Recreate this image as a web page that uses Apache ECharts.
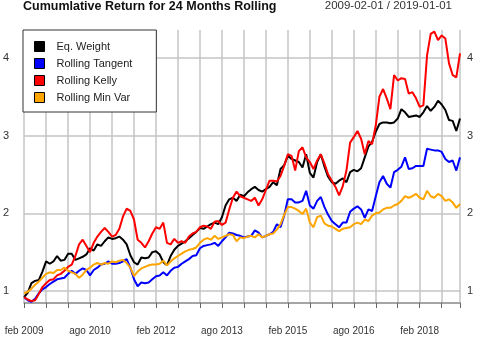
<!DOCTYPE html>
<html>
<head>
<meta charset="utf-8">
<script src="https://cdn.jsdelivr.net/npm/echarts@6/dist/echarts.min.js"></script>
<style>
  html, body { margin: 0; padding: 0; background: #fff; }
  #chart { width: 480px; height: 338px; }
</style>
</head>
<body>
<div id="chart"></div>
<script>
// monthly observations, feb 2009 .. jan 2019
const startYear = 2009
const startMonth = 1 // 0-based, feb
const monthNames = ['ene', 'feb', 'mar', 'abr', 'may', 'jun', 'jul', 'ago', 'sep', 'oct', 'nov', 'dic']
const yTicks = [1, 2, 3, 4]

const eqWeight = [
  0.92, 0.98, 1.10, 1.13, 1.14, 1.25, 1.38, 1.35, 1.38, 1.45, 1.39, 1.40,
  1.48, 1.48, 1.40, 1.42, 1.44, 1.47, 1.55, 1.52, 1.60, 1.58, 1.64, 1.69,
  1.67, 1.68, 1.70, 1.66, 1.60, 1.46, 1.37, 1.34, 1.43, 1.42, 1.43, 1.50,
  1.51, 1.47, 1.37, 1.33, 1.45, 1.53, 1.58, 1.61, 1.64, 1.68, 1.72, 1.76,
  1.81, 1.80, 1.83, 1.86, 1.88, 1.86, 1.95, 2.10, 2.18, 2.20, 2.16, 2.24,
  2.22, 2.27, 2.31, 2.34, 2.30, 2.28, 2.31, 2.34, 2.40, 2.36, 2.57, 2.62,
  2.74, 2.70, 2.68, 2.66, 2.59, 2.76, 2.52, 2.46, 2.66, 2.76, 2.60, 2.47,
  2.40, 2.38, 2.42, 2.45, 2.40, 2.53, 2.56, 2.54, 2.58, 2.72, 2.86, 2.92,
  3.05, 3.15, 3.17, 3.17, 3.16, 3.17, 3.22, 3.34, 3.30, 3.24, 3.25, 3.26,
  3.24, 3.30, 3.38, 3.32, 3.37, 3.45, 3.40, 3.33, 3.20, 3.19, 3.06, 3.22
]
const tangent = [
  0.92, 0.88, 0.86, 0.90, 0.97, 1.02, 1.05, 1.09, 1.12, 1.15, 1.16, 1.17,
  1.22, 1.26, 1.22, 1.26, 1.29, 1.27, 1.20, 1.27, 1.30, 1.34, 1.35, 1.38,
  1.35, 1.35, 1.36, 1.38, 1.41, 1.30, 1.15, 1.06, 1.11, 1.10, 1.11, 1.15,
  1.19, 1.20, 1.24, 1.20, 1.26, 1.30, 1.31, 1.35, 1.38, 1.41, 1.45, 1.46,
  1.55, 1.58, 1.59, 1.60, 1.62, 1.58, 1.64, 1.69, 1.75, 1.74, 1.72, 1.71,
  1.69, 1.70, 1.71, 1.78, 1.75, 1.69, 1.71, 1.73, 1.76, 1.86, 1.82, 1.97,
  2.18, 2.18, 2.14, 2.14, 2.16, 2.29, 2.10, 2.06, 2.16, 2.21, 2.08, 1.98,
  1.90, 1.86, 1.82, 1.88, 1.88, 2.02, 2.06, 2.09, 2.05, 1.94, 2.05, 2.03,
  2.22, 2.40, 2.48, 2.38, 2.33, 2.53, 2.56, 2.60, 2.72, 2.57, 2.58, 2.61,
  2.61, 2.61, 2.83, 2.82, 2.81, 2.81, 2.79, 2.70, 2.66, 2.68, 2.55, 2.72
]
const kelly = [
  0.92, 0.89, 0.87, 0.88, 0.96, 1.05, 1.10, 1.14, 1.15, 1.20, 1.22, 1.26,
  1.31, 1.34, 1.45, 1.60, 1.66, 1.58, 1.50, 1.62, 1.70, 1.76, 1.81, 1.76,
  1.70, 1.72, 1.80, 1.96, 2.06, 2.03, 1.92, 1.66, 1.62, 1.56, 1.64, 1.74,
  1.82, 1.80, 1.88, 1.62, 1.60, 1.67, 1.62, 1.64, 1.62, 1.70, 1.74, 1.76,
  1.82, 1.84, 1.83, 1.80, 1.89, 1.90, 1.85, 1.88, 2.05, 2.20, 2.28, 2.22,
  2.20, 2.18, 2.16, 2.20, 2.10, 2.18, 2.30, 2.42, 2.42, 2.41, 2.48, 2.61,
  2.76, 2.74, 2.55, 2.80, 2.85, 2.72, 2.66, 2.57, 2.68, 2.76, 2.64, 2.50,
  2.42, 2.34, 2.23, 2.35, 2.55, 2.91, 2.98, 3.06, 2.96, 2.76, 2.93, 2.89,
  3.13, 3.50, 3.60, 3.48, 3.34, 3.78, 3.71, 3.74, 3.73, 3.54, 3.56, 3.48,
  3.37, 3.39, 4.03, 4.31, 4.34, 4.23, 4.29, 4.25, 3.93, 3.78, 3.75, 4.06
]
const minVar = [
  0.97, 0.99, 1.03, 1.08, 1.12, 1.17, 1.22, 1.24, 1.23, 1.27, 1.27, 1.30,
  1.26, 1.24, 1.22, 1.17, 1.21, 1.27, 1.30, 1.34, 1.36, 1.34, 1.36, 1.35,
  1.38, 1.37, 1.39, 1.40, 1.36, 1.30, 1.19, 1.25, 1.29, 1.31, 1.33, 1.34,
  1.34, 1.35, 1.39, 1.33, 1.38, 1.42, 1.45, 1.48, 1.51, 1.53, 1.54, 1.56,
  1.62, 1.66, 1.68, 1.66, 1.71, 1.67, 1.69, 1.71, 1.73, 1.72, 1.64, 1.69,
  1.68, 1.70, 1.71, 1.69, 1.73, 1.69, 1.71, 1.73, 1.74, 1.79, 1.86, 1.98,
  2.08, 2.08, 2.06, 2.03, 1.99, 2.06, 1.88, 1.82, 1.95, 1.97, 1.87, 1.84,
  1.83, 1.80, 1.77, 1.80, 1.81, 1.82, 1.86, 1.88, 1.86, 1.92, 1.90, 1.97,
  2.00, 2.01, 2.05, 2.07, 2.07, 2.10, 2.12, 2.16, 2.22, 2.20, 2.22, 2.25,
  2.20, 2.18, 2.29, 2.22, 2.20, 2.25, 2.22, 2.16, 2.18, 2.14, 2.07, 2.12
]

const dates = []
for (let i = 0; i < eqWeight.length; i++) {
  const m = startMonth + i
  dates.push({ y: startYear + Math.floor(m / 12), m: m % 12 })
}
const categories = dates.map(d => d.y + '-' + String(d.m + 1).padStart(2, '0'))
const last = categories.length - 1

const chart = echarts.init(document.getElementById('chart'), null, { renderer: 'canvas' })

const font = 'Arial, "Liberation Sans", Helvetica, sans-serif'
const gridColor = '#c4c4c4'

function yAxisDef(pos, margin) {
  return {
    type: 'value',
    position: pos,
    min: 0.845,
    max: 4.36,
    splitNumber: 4,
    axisLine: { show: false },
    axisTick: { show: false },
    axisLabel: {
      margin: margin,
      color: '#333',
      fontSize: 11,
      fontFamily: font,
      showMinLabel: false,
      showMaxLabel: false,
      formatter: function(v) {
        return yTicks.indexOf(v) >= 0 ? String(v) : ''
      }
    },
    splitLine: {
      show: pos === 'left',
      showMinLine: false,
      showMaxLine: false,
      lineStyle: { color: gridColor, width: 1.5 }
    }
  }
}

function lineSeries(name, data, color) {
  return {
    name: name,
    type: 'line',
    data: data,
    symbol: 'none',
    yAxisIndex: 0,
    lineStyle: { color: color, width: 2 },
    itemStyle: { color: color }
  }
}

const option = {
  animation: false,
  backgroundColor: '#fff',
  title: [
    {
      text: 'Cumumlative Return for 24 Months Rolling',
      left: 23,
      top: 0,
      padding: 0,
      textStyle: { fontSize: 12.5, fontWeight: 'bold', color: '#111', fontFamily: font }
    },
    {
      text: '2009-02-01 / 2019-01-01',
      right: 28,
      top: 0,
      padding: 0,
      textStyle: { fontSize: 11.5, fontWeight: 'normal', color: '#333', fontFamily: font }
    }
  ],
  grid: { left: 23, right: 20, top: 30, bottom: 35, containLabel: false },
  legend: {
    orient: 'vertical',
    left: 23,
    top: 30,
    padding: [10, 24, 8, 11],
    itemGap: 4,
    itemWidth: 10,
    itemHeight: 10,
    icon: 'rect',
    backgroundColor: '#fff',
    borderColor: '#333',
    borderWidth: 1,
    itemStyle: { borderColor: '#000', borderWidth: 1 },
    textStyle: { fontSize: 11, color: '#222', fontFamily: font, lineHeight: 13, padding: [0, 0, 0, 7] },
    data: ['Eq. Weight', 'Rolling Tangent', 'Rolling Kelly', 'Rolling Min Var']
  },
  xAxis: {
    type: 'category',
    data: categories,
    boundaryGap: false,
    axisLine: { show: true, lineStyle: { color: '#888', width: 1.5 } },
    axisTick: {
      show: true,
      length: 5,
      interval: function(i) { return i % 6 === 0 || i === last },
      lineStyle: { color: '#666', width: 1 }
    },
    axisLabel: {
      margin: 23,
      color: '#333',
      fontSize: 10,
      fontFamily: font,
      interval: function(i) { return i % 18 === 0 },
      formatter: function(v, i) {
        const d = dates[i]
        return monthNames[d.m] + ' ' + d.y
      }
    },
    splitLine: {
      show: true,
      interval: function(i) { return i % 6 === 0 || i === last },
      lineStyle: { color: gridColor, width: 1.5 }
    }
  },
  yAxis: [yAxisDef('left', 15), yAxisDef('right', 7)],
  series: [
    lineSeries('Eq. Weight', eqWeight, '#000000'),
    lineSeries('Rolling Tangent', tangent, '#0000ff'),
    lineSeries('Rolling Kelly', kelly, '#ff0000'),
    lineSeries('Rolling Min Var', minVar, '#ffa500')
  ]
}

chart.setOption(option)
</script>
</body>
</html>
